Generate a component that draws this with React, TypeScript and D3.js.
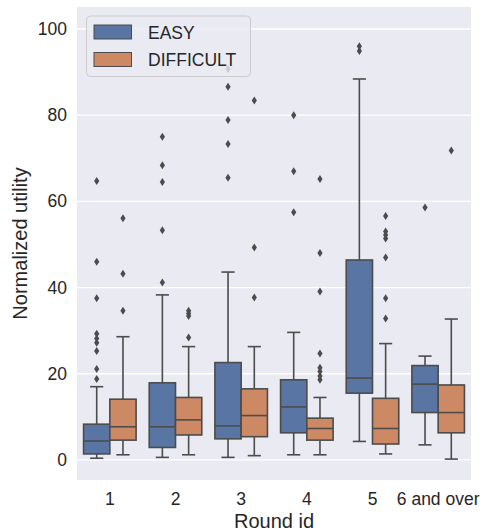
import React from 'react';
import * as d3 from 'd3';

const categories = ['1', '2', '3', '4', '5', '6 and over'];
const hues = ['EASY', 'DIFFICULT'];
const hueColors = ['#5875a4', '#cc8963'];

// [whisker low, q1, median, q3, whisker high]
const easyStats = [
  [0.4, 1.4, 4.4, 8.3, 17.0],
  [0.6, 2.9, 7.7, 17.9, 38.3],
  [0.6, 4.9, 7.9, 22.6, 43.6],
  [1.2, 6.3, 12.3, 18.6, 29.6],
  [4.3, 15.5, 19.0, 46.4, 88.4],
  [3.5, 11.0, 17.6, 21.9, 24.1],
];
const difficultStats = [
  [1.2, 4.6, 7.7, 14.1, 28.6],
  [1.2, 5.8, 9.3, 14.5, 26.3],
  [1.0, 5.4, 10.3, 16.5, 26.3],
  [1.2, 4.6, 7.3, 9.7, 14.5],
  [1.4, 3.7, 7.3, 14.3, 27.0],
  [0.2, 6.3, 11.0, 17.4, 32.7],
];
const easyOutliers = [
  [18.8, 21.1, 25.3, 27.2, 28.2, 29.3, 37.5, 46.0, 64.7],
  [41.2, 53.3, 64.5, 68.4, 75.0],
  [65.5, 73.3, 78.9, 86.6, 90.7],
  [57.5, 67.0, 80.0],
  [94.9, 96.0],
  [58.6],
];
const difficultOutliers = [
  [34.6, 43.2, 56.1],
  [28.4, 33.4, 34.0, 34.6],
  [37.7, 49.3, 83.4],
  [18.6, 19.5, 20.5, 21.4, 24.7, 39.1, 48.0, 65.2],
  [32.8, 37.5, 47.0, 51.4, 52.2, 53.0, 56.6],
  [71.8],
];
const yTicks = [0, 20, 40, 60, 80, 100];

const W = 487;
const H = 531;
const plot = { left: 77, right: 471, top: 7, bottom: 480 };
const lineColor = '#4c4c4c';
const font = '"Liberation Sans", Arial, sans-serif';

export default function App() {
  const x = d3.scaleBand().domain(categories).range([plot.left, plot.right]).padding(0);
  const hueX = d3
    .scaleBand()
    .domain(hues)
    .range([x.bandwidth() * 0.1, x.bandwidth() * 0.9])
    .padding(0);
  const y = d3.scaleLinear().domain([-4.65, 105.1]).range([plot.bottom, plot.top]);
  const bw = hueX.bandwidth();
  const diamond = (cx: number, cy: number) =>
    `M${cx},${cy - 4}L${cx + 2.6},${cy}L${cx},${cy + 4}L${cx - 2.6},${cy}Z`;

  const series = [
    { stats: easyStats, outliers: easyOutliers },
    { stats: difficultStats, outliers: difficultOutliers },
  ];

  return (
    <svg width={W} height={H} style={{ position: 'absolute', left: 0, top: 0 }}>
      <rect x={0} y={0} width={W} height={H} fill="#ffffff" />
      <rect
        x={plot.left}
        y={plot.top}
        width={plot.right - plot.left}
        height={plot.bottom - plot.top}
        fill="#eaeaf2"
      />
      {yTicks.map((t) => (
        <g key={t}>
          <line x1={plot.left} x2={plot.right} y1={y(t)} y2={y(t)} stroke="#ffffff" strokeWidth={1.3} />
          <text
            x={67}
            y={y(t)}
            dy="0.35em"
            textAnchor="end"
            fontFamily={font}
            fontSize={17.5}
            fill="#262626"
          >
            {t}
          </text>
        </g>
      ))}
      {categories.map((c) => (
        <text
          key={c}
          x={x(c)! + x.bandwidth() / 2}
          y={505}
          textAnchor="middle"
          fontFamily={font}
          fontSize={17.5}
          fill="#262626"
        >
          {c}
        </text>
      ))}
      <text x={(plot.left + plot.right) / 2} y={528} textAnchor="middle" fontFamily={font} fontSize={20} fill="#262626">
        Round id
      </text>
      <text
        transform={`translate(27,${(plot.top + plot.bottom) / 2}) rotate(-90)`}
        textAnchor="middle"
        fontFamily={font}
        fontSize={20}
        fill="#262626"
      >
        Normalized utility
      </text>

      {series.map((s, hi) =>
        categories.map((c, ci) => {
          const [lo, q1, med, q3, hiW] = s.stats[ci];
          const x0 = x(c)! + hueX(hues[hi])!;
          const cx = x0 + bw / 2;
          return (
            <g key={`${hi}-${ci}`}>
              <line x1={cx} x2={cx} y1={y(lo)} y2={y(q1)} stroke={lineColor} strokeWidth={1.6} />
              <line x1={cx} x2={cx} y1={y(q3)} y2={y(hiW)} stroke={lineColor} strokeWidth={1.6} />
              <line x1={cx - bw / 4} x2={cx + bw / 4} y1={y(lo)} y2={y(lo)} stroke={lineColor} strokeWidth={1.6} />
              <line x1={cx - bw / 4} x2={cx + bw / 4} y1={y(hiW)} y2={y(hiW)} stroke={lineColor} strokeWidth={1.6} />
              <rect
                x={x0}
                y={y(q3)}
                width={bw}
                height={y(q1) - y(q3)}
                fill={hueColors[hi]}
                stroke={lineColor}
                strokeWidth={1.6}
              />
              <line x1={x0} x2={x0 + bw} y1={y(med)} y2={y(med)} stroke={lineColor} strokeWidth={1.6} />
              {s.outliers[ci].map((v, oi) => (
                <path key={oi} d={diamond(cx, y(v))} fill={lineColor} />
              ))}
            </g>
          );
        })
      )}

      <g>
        <rect
          x={86.5}
          y={16}
          width={164}
          height={60.5}
          rx={4}
          fill="#eaeaf2"
          fillOpacity={0.8}
          stroke="#cccccc"
          strokeWidth={1}
        />
        {hues.map((h, i) => (
          <g key={h}>
            <rect
              x={94}
              y={25 + i * 27.5}
              width={37.5}
              height={14}
              fill={hueColors[i]}
              stroke={lineColor}
              strokeWidth={1}
            />
            <text x={148} y={38.5 + i * 27.5} fontFamily={font} fontSize={17.5} fill="#262626">
              {h}
            </text>
          </g>
        ))}
      </g>
    </svg>
  );
}
